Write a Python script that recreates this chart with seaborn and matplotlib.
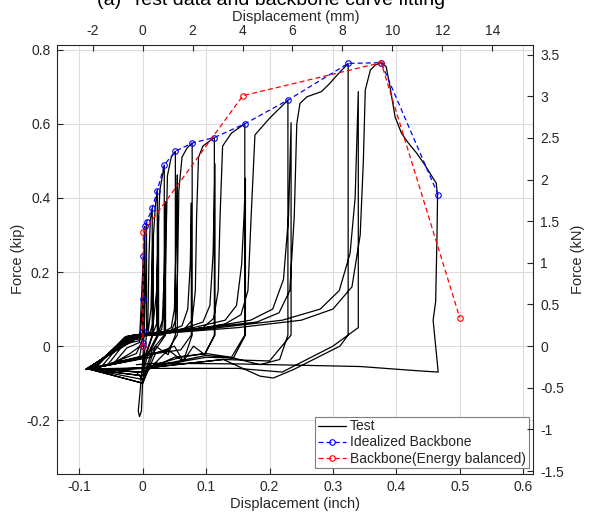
import numpy as np
import pandas as pd
import matplotlib
matplotlib.use("Agg")
import matplotlib.pyplot as plt
import seaborn as sns

# ---- backbone data (inch, kip) ----
ideal_x = [0.0, 0.0, 0.001, 0.001, 0.001, 0.003, 0.006, 0.015, 0.023, 0.034,
           0.0515, 0.078, 0.113, 0.161, 0.229, 0.324, 0.376, 0.466]
ideal_y = [0.0, 0.009, 0.040, 0.128, 0.242, 0.323, 0.334, 0.372, 0.420, 0.489,
           0.526, 0.548, 0.563, 0.600, 0.664, 0.763, 0.765, 0.408]

energy_x = [0.0, 0.001, 0.158, 0.376, 0.500]
energy_y = [0.0, 0.308, 0.676, 0.765, 0.077]

# ---- test record (inch, kip) ----
test_pts = [
    # small cycles around zero
    (0, 0), (0.0005, 0.04), (0.0, 0.005), (-0.02, -0.02), (-0.045, -0.045), (-0.025, -0.005), (-0.005, 0.01),
    (0.001, 0.128), (0.0005, 0.02), (-0.01, -0.02), (-0.055, -0.05), (-0.03, 0.005), (-0.005, 0.015),
    (0.001, 0.242), (0.001, 0.03), (-0.005, -0.03), (-0.065, -0.055), (-0.03, 0.015), (0.0, 0.02),
    (0.003, 0.323), (0.002, 0.03), (0.0, -0.04), (-0.004, -0.12), (-0.007, -0.175), (-0.005, -0.19),
    (-0.002, -0.175), (0.0, -0.09), (-0.01, -0.07), (-0.075, -0.06), (-0.03, 0.02), (0.002, 0.025),
    (0.005, 0.2), (0.006, 0.334), (0.006, 0.03), (0.0, -0.06), (-0.078, -0.062), (-0.028, 0.025), (0.004, 0.03),
    # 0.015 in
    (0.008, 0.05), (0.01, 0.25), (0.012, 0.34), (0.015, 0.372), (0.015, 0.03), (0.005, -0.02), (0.0, -0.07),
    (-0.08, -0.062), (-0.025, 0.027), (0.008, 0.03), (0.013, 0.1), (0.016, 0.30), (0.016, 0.03), (0.004, -0.03),
    (-0.08, -0.06), (-0.025, 0.025), (0.01, 0.03),
    # 0.023 in
    (0.016, 0.06), (0.017, 0.3), (0.02, 0.38), (0.023, 0.42), (0.023, 0.03), (0.008, -0.02), (0.0, -0.08),
    (-0.082, -0.062), (-0.022, 0.028), (0.015, 0.035), (0.022, 0.15), (0.025, 0.35), (0.025, 0.03),
    (0.007, -0.03), (-0.082, -0.061), (-0.02, 0.026), (0.015, 0.03),
    # 0.034 in
    (0.022, 0.06), (0.024, 0.3), (0.027, 0.42), (0.031, 0.46), (0.034, 0.489), (0.034, 0.03), (0.015, -0.01),
    (0.0, -0.09), (-0.083, -0.062), (-0.02, 0.028), (0.025, 0.035), (0.031, 0.07), (0.034, 0.2), (0.036, 0.39),
    (0.036, 0.03), (0.012, -0.03), (-0.083, -0.061), (-0.018, 0.027), (0.02, 0.03),
    # 0.05 in
    (0.03, 0.045), (0.035, 0.12), (0.037, 0.3), (0.039, 0.46), (0.045, 0.51), (0.0515, 0.526), (0.0515, 0.03),
    (0.04, -0.023), (0.02, 0.0), (0.0, -0.1), (-0.084, -0.062), (-0.018, 0.028), (0.03, 0.035), (0.045, 0.05),
    (0.05, 0.1), (0.053, 0.3), (0.0546, 0.462), (0.0546, 0.03), (0.04, -0.01), (0.015, -0.02), (-0.084, -0.061),
    (-0.015, 0.027), (0.03, 0.03),
    # 0.078 in
    (0.045, 0.04), (0.052, 0.07), (0.055, 0.2), (0.057, 0.42), (0.062, 0.51), (0.07, 0.535), (0.078, 0.548),
    (0.078, 0.03), (0.064, -0.041), (0.05, 0.0), (0.02, -0.02), (0.0, -0.1), (-0.085, -0.062), (-0.015, 0.03),
    (0.04, 0.04), (0.062, 0.055), (0.071, 0.1), (0.075, 0.22), (0.0767, 0.386), (0.0767, 0.03), (0.06, -0.01),
    (0.02, -0.02), (-0.085, -0.061), (-0.012, 0.028), (0.04, 0.035),
    # 0.113 in
    (0.065, 0.045), (0.078, 0.07), (0.083, 0.15), (0.085, 0.35), (0.088, 0.51), (0.095, 0.54), (0.113, 0.563),
    (0.113, 0.03), (0.098, -0.023), (0.08, 0.0), (0.064, -0.041), (0.04, -0.01), (0.0, -0.08), (-0.086, -0.062),
    (-0.012, 0.03), (0.06, 0.045), (0.095, 0.065), (0.106, 0.11), (0.111, 0.25), (0.114, 0.492), (0.114, 0.03),
    (0.098, -0.02), (0.06, -0.03), (0.0, -0.06), (-0.086, -0.061), (-0.01, 0.03), (0.06, 0.04),
    # 0.161 in
    (0.095, 0.05), (0.112, 0.075), (0.119, 0.15), (0.122, 0.35), (0.126, 0.54), (0.14, 0.575), (0.161, 0.600),
    (0.161, 0.03), (0.14, -0.03), (0.1, -0.02), (0.05, -0.03), (0.0, -0.07), (-0.087, -0.062), (-0.01, 0.03),
    (0.08, 0.05), (0.13, 0.07), (0.148, 0.11), (0.156, 0.22), (0.16, 0.36), (0.162, 0.453), (0.162, 0.03),
    (0.143, -0.032), (0.1, -0.025), (0.0, -0.06), (-0.087, -0.061), (-0.008, 0.03), (0.08, 0.045),
    # 0.229 in
    (0.13, 0.06), (0.155, 0.085), (0.166, 0.15), (0.171, 0.35), (0.177, 0.57), (0.2, 0.615), (0.229, 0.664),
    (0.229, 0.03), (0.216, -0.036), (0.185, -0.05), (0.143, -0.032), (0.1, -0.03), (0.0, -0.06),
    (-0.088, -0.062), (-0.008, 0.03), (0.1, 0.05), (0.17, 0.07), (0.205, 0.1), (0.222, 0.18), (0.23, 0.35),
    (0.234, 0.603), (0.234, 0.03), (0.2, -0.04), (0.127, -0.036), (0.0, -0.06), (-0.088, -0.061),
    (-0.005, 0.03), (0.1, 0.05),
    # 0.324 in
    (0.18, 0.065), (0.215, 0.09), (0.232, 0.15), (0.239, 0.35), (0.243, 0.6), (0.248, 0.655), (0.259, 0.673),
    (0.282, 0.687), (0.295, 0.709), (0.309, 0.736), (0.324, 0.763), (0.324, 0.03), (0.311, 0.0),
    (0.238, -0.063), (0.206, -0.086), (0.185, -0.081), (0.127, -0.036), (0.0, -0.06), (-0.09, -0.063),
    (-0.005, 0.03), (0.12, 0.05), (0.22, 0.07), (0.28, 0.1), (0.31, 0.15), (0.327, 0.25), (0.335, 0.4),
    (0.34, 0.687), (0.34, 0.05), (0.3, 0.0), (0.22, -0.07), (0.15, -0.06), (0.0, -0.06), (-0.09, -0.062),
    (0.0, 0.03),
    # peak and softening branch
    (0.15, 0.05), (0.25, 0.07), (0.3, 0.1), (0.33, 0.16), (0.343, 0.3), (0.348, 0.5), (0.351, 0.691),
    (0.359, 0.745), (0.367, 0.759), (0.377, 0.765), (0.384, 0.754), (0.39, 0.70), (0.398, 0.619),
    (0.408, 0.575), (0.419, 0.548), (0.432, 0.521), (0.445, 0.489), (0.458, 0.453), (0.463, 0.44),
    (0.465, 0.404), (0.464, 0.287), (0.462, 0.12), (0.458, 0.07), (0.462, 0.0), (0.466, -0.07),
    (0.43, -0.066), (0.343, -0.055), (0.15, -0.048), (0.022, -0.046), (-0.01, -0.05),
]
test_x = [p[0] for p in test_pts]
test_y = [p[1] for p in test_pts]

KIP_TO_KN = 4.448
INCH_TO_MM = 25.4

sns.set_style("white")
plt.rcParams['font.family'] = ['Liberation Sans', 'DejaVu Sans']
plt.rcParams['axes.unicode_minus'] = False
ink = '#262626'

fig = plt.figure(figsize=(5.9, 5.12), dpi=100)
ax = fig.add_axes([57.3 / 590, 1 - 473.5 / 512, (533.3 - 57.3) / 590, (473.5 - 45) / 512])

sns.lineplot(x=test_x, y=test_y, sort=False, estimator=None, color='black', lw=0.9,
             ax=ax, label='Test')
sns.lineplot(x=ideal_x, y=ideal_y, sort=False, estimator=None, color='blue', lw=0.9,
             dashes=False, linestyle=(0, (4, 2.5)), marker='o', markersize=4,
             markerfacecolor='none', markeredgecolor='blue', markeredgewidth=0.8,
             ax=ax, label='Idealized Backbone')
sns.lineplot(x=energy_x, y=energy_y, sort=False, estimator=None, color='red', lw=0.9,
             dashes=False, linestyle=(0, (4, 2.5)), marker='o', markersize=4,
             markerfacecolor='none', markeredgecolor='red', markeredgewidth=0.8,
             ax=ax, label='Backbone(Energy balanced)')

xlim = (-0.1347, 0.616)
ylim = (-0.3437, 0.8127)
ax.set_xlim(xlim)
ax.set_ylim(ylim)
ax.set_xticks(np.arange(-0.1, 0.61, 0.1))
ax.set_xticklabels(['-0.1', '0', '0.1', '0.2', '0.3', '0.4', '0.5', '0.6'])
ax.set_yticks([-0.2, 0, 0.2, 0.4, 0.6, 0.8])
ax.set_yticklabels(['-0.2', '0', '0.2', '0.4', '0.6', '0.8'])
ax.grid(True, color='#dcdcdc', lw=0.8)
ax.set_axisbelow(True)
ax.set_xlabel('Displacement (inch)', fontsize=10.5, color=ink, labelpad=2)
ax.set_ylabel('Force (kip)', fontsize=10.5, color=ink, labelpad=1)

for s in ['top', 'right']:
    ax.spines[s].set_visible(False)

ax_top = ax.twiny()
ax_top.set_xlim(xlim[0] * INCH_TO_MM, xlim[1] * INCH_TO_MM)
ax_top.set_xticks(np.arange(-2, 15, 2))
ax_top.set_xlabel('Displacement (mm)', fontsize=10.5, color=ink, labelpad=2)
ax_top.spines['right'].set_visible(False)
ax_top.spines['left'].set_visible(False)
ax_top.spines['bottom'].set_visible(False)

ax_r = ax.twinx()
ax_r.set_ylim(ylim[0] * KIP_TO_KN, ylim[1] * KIP_TO_KN)
ax_r.set_yticks(np.arange(-1.5, 3.6, 0.5))
ax_r.set_yticklabels(['-1.5', '-1', '-0.5', '0', '0.5', '1', '1.5', '2', '2.5', '3', '3.5'])
ax_r.set_ylabel('Force (kN)', fontsize=10.5, color=ink, labelpad=5)
ax_r.spines['left'].set_visible(False)
ax_r.spines['top'].set_visible(False)
ax_r.spines['bottom'].set_visible(False)

for a in (ax, ax_top, ax_r):
    a.tick_params(direction='in', length=4, width=0.8, colors=ink, labelsize=10, pad=5)
    for sp in a.spines.values():
        sp.set_color(ink)
        sp.set_linewidth(0.8)

h, l = ax.get_legend_handles_labels()
leg = ax.legend(h, l, loc='lower right', bbox_to_anchor=(0.99, 0.012), fontsize=10,
                frameon=True, fancybox=False, framealpha=1, edgecolor='#7f7f7f',
                borderpad=0.2, labelspacing=0.15, handlelength=2.0, handletextpad=0.3,
                borderaxespad=0.0)
leg.get_frame().set_linewidth(0.8)

fig.text(0.165, 1 - 5 / 512, '(a)  Test data and backbone curve fitting', fontsize=14,
         color='black', va='baseline', ha='left')

fig.savefig('out.png', dpi=100)
